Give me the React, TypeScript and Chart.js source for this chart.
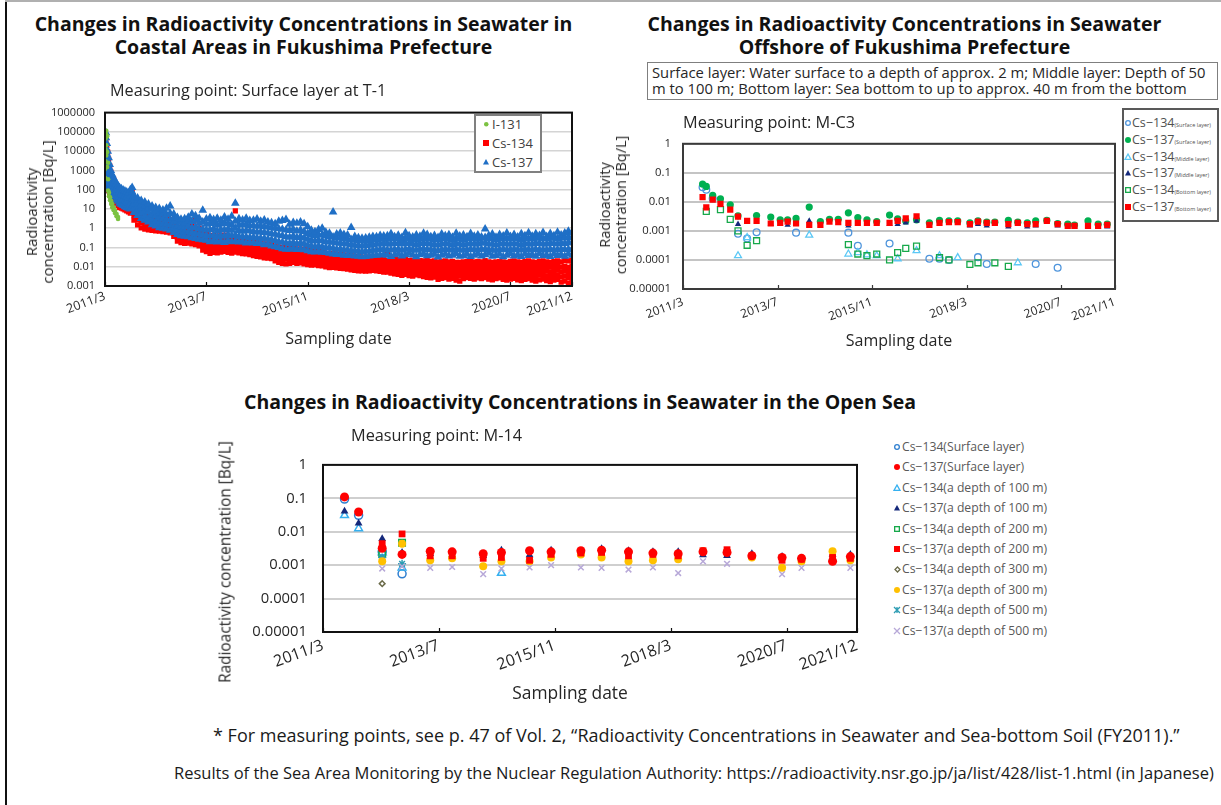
import React, { useEffect, useRef } from 'react';
import { Chart, registerables } from 'chart.js';

Chart.register(...registerables);

const FONT = '"Open Sans", Lato, "DejaVu Sans", sans-serif';
const INK = '#262626';

// ================= Panel 1: coastal, T-1 surface =================
const t1XTickMonths = [0, 28, 56, 84, 112, 129];
const t1XTickLabels = ['2011/3', '2013/7', '2015/11', '2018/3', '2020/7', '2021/12'];
const t1YTicks = [0.001, 0.01, 0.1, 1, 10, 100, 1000, 10000, 100000, 1000000];
const t1YTickLabels = ['0.001', '0.01', '0.1', '1', '10', '100', '1000', '10000', '100000', '1000000'];
const t1Names = ['I-131', 'Cs-134', 'Cs-137'];
// rows: [months since 2011/3, value, value, ...]
const t1I131 = [
  [0.05, 1200, 400], [0.15, 90000, 45000, 12000, 3000], [0.35, 115000, 70000, 20000, 6000],
  [0.6, 60000, 9000, 1500], [0.85, 2500, 350, 90], [1.1, 70, 45], [1.4, 40, 28], [1.7, 26, 18],
  [2.0, 18, 12], [2.4, 12, 8.5], [2.8, 8, 6], [3.2, 5.5, 4.2], [3.6, 3.8, 3],
];
const t1Cs134 = [
  [0, 100, 800, 7000, 28000, 50000], [0.25, 220, 2500, 15000, 40000], [0.5, 160, 1500, 6000, 20000],
  [0.75, 120, 700, 3000, 9000], [1, 90, 380, 1300, 3800], [1.3, 70, 240, 700, 1700], [1.6, 60, 160, 400, 850],
  [2, 45, 110, 240, 480], [2.4, 34, 80, 170, 320], [2.8, 26, 60, 120, 220], [3.2, 19, 45, 90, 150],
  [3.6, 15, 34, 70, 120], [4, 12, 28, 55, 95], [4.5, 11, 24, 45, 80], [5, 10, 20, 40, 70], [5.5, 9, 18, 34, 60],
  [6, 8, 15, 30, 50], [6.5, 7, 14, 27, 45], [7, 6, 12, 30, 70], [7.5, 8, 20, 50, 95],
  [8, 2.6, 4.5, 8, 14, 22], [9, 1.5, 2.8, 4.7, 8.5, 12], [10, 1.05, 1.9, 3.3, 5.4, 7.8], [11, 0.9, 1.5, 2.6, 4.1, 5.6],
  [12, 0.82, 1.35, 2.1, 3.3, 4.6], [13, 0.78, 1.2, 1.95, 2.9, 3.9], [14, 0.72, 1.15, 1.8, 2.6, 3.5], [15, 0.7, 1.1, 1.7, 2.5, 3.1],
  [16, 0.66, 1.05, 1.6, 2.3, 3], [17, 0.62, 0.98, 1.5, 2.2, 2.9], [18, 0.57, 0.9, 1.4, 2.05, 2.7], [19, 0.38, 0.6, 0.95, 1.4, 2.1],
  [20, 0.21, 0.33, 0.52, 0.78, 1.15], [21, 0.18, 0.29, 0.44, 0.66, 0.95], [22, 0.165, 0.26, 0.4, 0.6, 0.88], [23, 0.17, 0.28, 0.45, 0.7, 1.05],
  [24, 0.155, 0.25, 0.42, 0.68, 1.25], [25, 0.14, 0.23, 0.39, 0.62, 2.6], [26, 0.12, 0.2, 0.34, 0.55, 1], [27, 0.072, 0.12, 0.2, 0.32, 0.52],
  [28, 0.06, 0.1, 0.17, 0.28, 0.46], [29, 0.05, 0.085, 0.14, 0.24, 0.4], [30, 0.056, 0.095, 0.16, 0.26, 0.43], [31, 0.053, 0.088, 0.145, 0.23, 0.37],
  [32, 0.058, 0.096, 0.155, 0.25, 0.41], [33, 0.063, 0.105, 0.17, 0.27, 0.44], [34, 0.056, 0.092, 0.15, 0.23, 0.36], [35, 0.051, 0.085, 0.14, 0.21, 0.34],
  [36, 0.058, 0.095, 0.15, 0.24, 8], [37, 0.052, 0.085, 0.135, 0.21, 0.31], [38, 0.048, 0.078, 0.125, 0.19, 0.29], [39, 0.046, 0.075, 0.12, 0.18, 0.28],
  [40, 0.043, 0.068, 0.11, 0.17, 0.26], [41, 0.038, 0.058, 0.09, 0.135, 0.2], [42, 0.034, 0.054, 0.083, 0.125, 0.19], [43, 0.032, 0.05, 0.076, 0.11, 0.16],
  [44, 0.029, 0.046, 0.072, 0.105, 0.155], [45, 0.028, 0.043, 0.066, 0.098, 0.145], [46, 0.026, 0.04, 0.062, 0.092, 0.135], [47, 0.02, 0.033, 0.05, 0.075, 0.115],
  [48, 0.017, 0.029, 0.046, 0.068, 0.105], [49, 0.015, 0.025, 0.041, 0.064, 0.1], [50, 0.014, 0.025, 0.042, 0.07, 0.14], [51, 0.015, 0.024, 0.039, 0.06, 0.092],
  [52, 0.017, 0.027, 0.043, 0.066, 0.1], [53, 0.015, 0.024, 0.036, 0.055, 0.082], [54, 0.016, 0.025, 0.038, 0.056, 0.083], [55, 0.014, 0.022, 0.034, 0.05, 0.077],
  [56, 0.013, 0.021, 0.032, 0.047, 0.072], [57, 0.012, 0.019, 0.029, 0.044, 0.066], [58, 0.0125, 0.019, 0.028, 0.041, 0.061], [59, 0.0115, 0.018, 0.027, 0.04, 0.06],
  [60, 0.0112, 0.017, 0.026, 0.038, 0.058], [61, 0.0098, 0.015, 0.023, 0.034, 0.05], [62, 0.009, 0.014, 0.021, 0.032, 0.048], [63, 0.0092, 0.014, 0.021, 0.033, 0.05],
  [64, 0.0086, 0.013, 0.019, 0.029, 0.045], [65, 0.0083, 0.0125, 0.019, 0.028, 0.042], [66, 0.008, 0.012, 0.018, 0.027, 0.04], [67, 0.0076, 0.0115, 0.017, 0.026, 0.04],
  [68, 0.0068, 0.0105, 0.016, 0.024, 0.038], [69, 0.0064, 0.0098, 0.015, 0.023, 0.035], [70, 0.0061, 0.0094, 0.014, 0.021, 0.033], [71, 0.006, 0.0092, 0.014, 0.021, 0.032],
  [72, 0.0059, 0.009, 0.0135, 0.02, 0.03], [73, 0.006, 0.0093, 0.014, 0.021, 0.033], [74, 0.0065, 0.01, 0.015, 0.023, 0.035], [75, 0.006, 0.0093, 0.0145, 0.022, 0.034],
  [76, 0.0057, 0.0088, 0.0135, 0.02, 0.032], [77, 0.0053, 0.0083, 0.013, 0.021, 0.035], [78, 0.0052, 0.0082, 0.013, 0.021, 0.05], [79, 0.0047, 0.0075, 0.012, 0.019, 0.03],
  [80, 0.0043, 0.007, 0.011, 0.0175, 0.028], [81, 0.004, 0.0064, 0.0102, 0.016, 0.025], [82, 0.0036, 0.0059, 0.0094, 0.015, 0.023], [83, 0.004, 0.0065, 0.0103, 0.016, 0.025],
  [84, 0.0035, 0.0056, 0.0089, 0.014, 0.021], [85, 0.0033, 0.0054, 0.0088, 0.014, 0.022], [86, 0.0038, 0.006, 0.0096, 0.015, 0.024], [87, 0.0035, 0.0056, 0.0089, 0.014, 0.021],
  [88, 0.0031, 0.0051, 0.0082, 0.013, 0.02], [89, 0.0028, 0.0047, 0.0078, 0.013, 0.021], [90, 0.0026, 0.0045, 0.0073, 0.012, 0.019], [91, 0.0029, 0.0048, 0.0078, 0.0125, 0.02],
  [92, 0.0022, 0.0038, 0.0065, 0.011, 0.018], [93, 0.0025, 0.0042, 0.007, 0.0115, 0.019], [94, 0.0027, 0.0045, 0.0074, 0.012, 0.02], [95, 0.0023, 0.0039, 0.0066, 0.011, 0.018],
  [96, 0.0025, 0.0042, 0.007, 0.0115, 0.019], [97, 0.002, 0.0035, 0.0062, 0.0105, 0.017], [98, 0.0018, 0.0033, 0.0058, 0.01, 0.017], [99, 0.0024, 0.004, 0.0068, 0.011, 0.018],
  [100, 0.0027, 0.0044, 0.0072, 0.0118, 0.019], [101, 0.0025, 0.0041, 0.0069, 0.0115, 0.02], [102, 0.0023, 0.0038, 0.0065, 0.0108, 0.018], [103, 0.0026, 0.0043, 0.0071, 0.0116, 0.019],
  [104, 0.0024, 0.004, 0.0067, 0.011, 0.018], [105, 0.0027, 0.0045, 0.0075, 0.0125, 0.021], [106, 0.0023, 0.0038, 0.0064, 0.0107, 0.018], [107, 0.0021, 0.0036, 0.0062, 0.0103, 0.017],
  [108, 0.0024, 0.004, 0.0067, 0.011, 0.018], [109, 0.0026, 0.0043, 0.0071, 0.0116, 0.019], [110, 0.0022, 0.0037, 0.0064, 0.0107, 0.018], [111, 0.002, 0.0035, 0.006, 0.0101, 0.017],
  [112, 0.0023, 0.0039, 0.0065, 0.0109, 0.019], [113, 0.0025, 0.0041, 0.0069, 0.0116, 0.02], [114, 0.0021, 0.0036, 0.0062, 0.0105, 0.018], [115, 0.0019, 0.0034, 0.0058, 0.0099, 0.017],
  [116, 0.0022, 0.0038, 0.0064, 0.0109, 0.019], [117, 0.0024, 0.004, 0.0068, 0.0115, 0.02], [118, 0.002, 0.0035, 0.006, 0.0103, 0.018], [119, 0.0018, 0.0032, 0.0056, 0.0097, 0.017],
  [120, 0.0021, 0.0037, 0.0063, 0.0108, 0.019], [121, 0.0023, 0.0039, 0.0067, 0.0114, 0.02], [122, 0.0019, 0.0034, 0.0059, 0.0102, 0.018], [123, 0.0017, 0.0031, 0.0054, 0.0095, 0.017],
  [124, 0.002, 0.0036, 0.0062, 0.0107, 0.019], [125, 0.0022, 0.0038, 0.0066, 0.0113, 0.02], [126, 0.0016, 0.003, 0.0054, 0.0096, 0.018], [127, 0.0018, 0.0033, 0.0059, 0.0105, 0.021],
  [128, 0.0014, 0.0027, 0.005, 0.0093, 0.02], [129, 0.0019, 0.0035, 0.0063, 0.011, 0.022],
];
const t1Cs137 = [
  [0, 150, 900, 5000, 30000, 75000], [0.25, 400, 3000, 15000, 50000, 90000], [0.5, 250, 1500, 7000, 25000],
  [0.75, 180, 800, 3000, 10000], [1, 130, 450, 1500, 4500], [1.3, 100, 280, 800, 2000], [1.6, 85, 200, 450, 1000],
  [2, 65, 150, 300, 600], [2.4, 50, 110, 220, 400], [2.8, 40, 85, 160, 280], [3.2, 30, 65, 120, 200],
  [3.6, 25, 50, 95, 160], [4, 20, 42, 80, 130], [4.5, 17, 34, 62, 110], [5, 15, 30, 55, 95], [5.5, 13, 26, 48, 85],
  [6, 12, 24, 42, 75], [6.5, 11, 21, 38, 65], [7, 10, 19, 45, 100], [7.5, 13, 32, 75, 130],
  [8, 6.5, 11, 19, 31, 48], [9, 4.6, 8.5, 15, 24, 37], [10, 3.2, 6.2, 11, 17, 27], [11, 2.6, 4.4, 8.4, 14, 23],
  [12, 2.1, 3.4, 6.8, 11, 18], [13, 1.5, 2.9, 5.1, 9.5, 14], [14, 1.3, 2.2, 4.3, 7.4, 12], [15, 1.05, 2, 3.6, 6.1, 10.5],
  [16, 1, 1.7, 3.1, 5.6, 8.8], [17, 0.9, 1.6, 2.8, 5.2, 11], [18, 0.78, 1.45, 2.7, 5.9, 14], [19, 0.6, 1.05, 2.05, 3.4, 5.4],
  [20, 0.47, 0.8, 1.35, 2.3, 3.6], [21, 0.4, 0.74, 1.2, 2.05, 2.9], [22, 0.38, 0.66, 1.15, 1.85, 3.1], [23, 0.36, 0.63, 1.3, 2.4, 3.7],
  [24, 0.32, 0.6, 1.05, 2.2, 5.5], [25, 0.29, 0.52, 1.15, 2.6, 4.4], [26, 0.27, 0.5, 0.92, 1.8, 3.3], [27, 0.25, 0.46, 0.88, 2.1, 8.5],
  [28, 0.24, 0.42, 0.8, 1.6, 3], [29, 0.2, 0.39, 0.82, 1.75, 3.5], [30, 0.23, 0.45, 0.95, 1.9, 2.8], [31, 0.19, 0.37, 0.72, 1.45, 3.3],
  [32, 0.21, 0.42, 0.86, 1.65, 2.6], [33, 0.18, 0.38, 0.8, 1.85, 3.8], [34, 0.22, 0.46, 0.9, 1.7, 2.9], [35, 0.2, 0.4, 0.78, 1.55, 4.2],
  [36, 0.21, 0.44, 0.98, 2.3, 20], [37, 0.19, 0.37, 0.76, 1.5, 3.1], [38, 0.2, 0.36, 0.7, 1.45, 2.7], [39, 0.17, 0.35, 0.75, 1.6, 3.3],
  [40, 0.18, 0.33, 0.71, 1.4, 2.5], [41, 0.17, 0.34, 0.66, 1.35, 2.6], [42, 0.16, 0.31, 0.63, 1.25, 3], [43, 0.17, 0.3, 0.64, 1.35, 2.3],
  [44, 0.14, 0.29, 0.6, 1.2, 2.7], [45, 0.145, 0.27, 0.57, 1.15, 2.1], [46, 0.12, 0.25, 0.52, 1.05, 1.9], [47, 0.11, 0.23, 0.49, 0.98, 1.7],
  [48, 0.1, 0.2, 0.43, 0.95, 2.3], [49, 0.085, 0.185, 0.4, 0.88, 2.5], [50, 0.08, 0.17, 0.36, 0.8, 2.8], [51, 0.082, 0.16, 0.34, 0.75, 1.6],
  [52, 0.09, 0.18, 0.39, 0.87, 2], [53, 0.078, 0.155, 0.33, 0.72, 1.8], [54, 0.086, 0.175, 0.37, 0.8, 2.1], [55, 0.075, 0.15, 0.31, 0.68, 1.7],
  [56, 0.068, 0.135, 0.27, 0.53, 1.2], [57, 0.06, 0.12, 0.23, 0.45, 0.78], [58, 0.058, 0.11, 0.215, 0.4, 0.66], [59, 0.062, 0.12, 0.24, 0.46, 0.85],
  [60, 0.056, 0.105, 0.22, 0.44, 1], [61, 0.055, 0.1, 0.2, 0.39, 0.62], [62, 0.05, 0.097, 0.19, 0.36, 0.55], [63, 0.046, 0.09, 0.185, 0.35, 7],
  [64, 0.043, 0.082, 0.17, 0.31, 0.5], [65, 0.045, 0.083, 0.165, 0.32, 0.56], [66, 0.04, 0.076, 0.155, 0.29, 0.47], [67, 0.038, 0.073, 0.15, 0.27, 0.44],
  [68, 0.039, 0.07, 0.14, 0.26, 1.1], [69, 0.036, 0.068, 0.13, 0.24, 0.37], [70, 0.035, 0.064, 0.125, 0.23, 0.32], [71, 0.033, 0.062, 0.12, 0.22, 0.3],
  [72, 0.034, 0.063, 0.125, 0.21, 0.31], [73, 0.036, 0.066, 0.13, 0.23, 0.34], [74, 0.038, 0.072, 0.14, 0.25, 0.37], [75, 0.04, 0.074, 0.15, 0.26, 0.36],
  [76, 0.041, 0.078, 0.15, 0.28, 0.42], [77, 0.043, 0.08, 0.16, 0.27, 0.39], [78, 0.039, 0.074, 0.15, 0.27, 0.41], [79, 0.034, 0.073, 0.15, 0.29, 0.52],
  [80, 0.042, 0.078, 0.16, 0.28, 0.36], [81, 0.047, 0.081, 0.16, 0.29, 0.43], [82, 0.036, 0.072, 0.15, 0.26, 0.33], [83, 0.042, 0.082, 0.17, 0.31, 0.58],
  [84, 0.05, 0.083, 0.16, 0.28, 0.41], [85, 0.041, 0.077, 0.15, 0.26, 0.35], [86, 0.033, 0.072, 0.14, 0.25, 0.44], [87, 0.042, 0.082, 0.16, 0.28, 0.38],
  [88, 0.048, 0.085, 0.17, 0.3, 0.55], [89, 0.037, 0.079, 0.16, 0.28, 0.47], [90, 0.039, 0.075, 0.15, 0.28, 0.36], [91, 0.045, 0.072, 0.14, 0.26, 0.42],
  [92, 0.032, 0.07, 0.14, 0.25, 0.33], [93, 0.039, 0.075, 0.15, 0.28, 0.5], [94, 0.046, 0.08, 0.16, 0.29, 0.4], [95, 0.036, 0.077, 0.15, 0.27, 0.46],
  [96, 0.04, 0.073, 0.14, 0.26, 0.34], [97, 0.048, 0.08, 0.16, 0.28, 0.55], [98, 0.035, 0.077, 0.15, 0.28, 0.39], [99, 0.037, 0.071, 0.14, 0.26, 0.45],
  [100, 0.044, 0.075, 0.15, 0.28, 0.36], [101, 0.034, 0.081, 0.16, 0.3, 0.53], [102, 0.04, 0.077, 0.15, 0.28, 0.38], [103, 0.047, 0.075, 0.15, 0.27, 0.44],
  [104, 0.036, 0.082, 0.17, 0.3, 0.35], [105, 0.042, 0.082, 0.17, 0.33, 0.9], [106, 0.05, 0.077, 0.15, 0.28, 0.42], [107, 0.035, 0.073, 0.15, 0.28, 0.5],
  [108, 0.038, 0.071, 0.14, 0.26, 0.34], [109, 0.045, 0.075, 0.15, 0.28, 0.47], [110, 0.033, 0.08, 0.16, 0.29, 0.39], [111, 0.04, 0.077, 0.15, 0.28, 0.56],
  [112, 0.048, 0.075, 0.15, 0.28, 0.37], [113, 0.036, 0.08, 0.16, 0.3, 0.47], [114, 0.042, 0.077, 0.15, 0.28, 0.35], [115, 0.034, 0.073, 0.14, 0.26, 0.52],
  [116, 0.046, 0.08, 0.16, 0.31, 0.4], [117, 0.038, 0.077, 0.15, 0.28, 0.58], [118, 0.043, 0.075, 0.15, 0.28, 0.38], [119, 0.035, 0.082, 0.17, 0.32, 0.51],
  [120, 0.049, 0.077, 0.16, 0.3, 0.42], [121, 0.037, 0.075, 0.15, 0.28, 0.6], [122, 0.041, 0.073, 0.15, 0.29, 0.37], [123, 0.034, 0.082, 0.17, 0.32, 0.53],
  [124, 0.046, 0.077, 0.16, 0.3, 0.41], [125, 0.038, 0.075, 0.15, 0.28, 0.62], [126, 0.043, 0.082, 0.17, 0.33, 0.45], [127, 0.035, 0.079, 0.16, 0.31, 0.56],
  [128, 0.047, 0.082, 0.18, 0.36, 0.7], [129, 0.039, 0.079, 0.17, 0.32, 0.6],
];

// ================= Panel 2: offshore, M-C3 =================
const mc3XTickMonths = [0, 28, 56, 84, 112, 128];
const mc3XTickLabels = ['2011/3', '2013/7', '2015/11', '2018/3', '2020/7', '2021/11'];
const mc3YTicks = [0.00001, 0.0001, 0.001, 0.01, 0.1, 1];
const mc3YTickLabels = ['0.00001', '0.0001', '0.001', '0.01', '0.1', '1'];
const mc3Names = ['Cs−134', 'Cs−137', 'Cs−134', 'Cs−137', 'Cs−134', 'Cs−137'];
const mc3Layers = ['(Surface layer)', '(Surface layer)', '(Middle layer)', '(Middle layer)', '(Bottom layer)', '(Bottom layer)'];
// pairs: [months since 2011/3, Bq/L]
const mc3Cs134Surface = [
  [5.8, 0.032], [6.9, 0.026], [8.8, 0.013], [16.3, 0.0008], [19, 0.00055], [21.8, 0.0009], [33.5, 0.00087],
  [49, 0.00087], [51.8, 0.00031], [61.2, 0.00037], [73, 0.00011], [76, 0.00011], [78.8, 0.0001], [87.4, 0.000125],
  [90, 0.000073], [104.5, 0.000073], [111, 0.000054],
];
const mc3Cs137Surface = [
  [5.8, 0.041], [6.9, 0.034], [8.8, 0.0168], [11.1, 0.0128], [14, 0.0079], [16.3, 0.0033], [21.8, 0.0034],
  [26, 0.003], [28.8, 0.0024], [31, 0.0024], [33.5, 0.0027], [37.4, 0.0066], [40.7, 0.0021], [43.4, 0.0025],
  [46, 0.0025], [49, 0.0042], [51.8, 0.0029], [54.5, 0.0024], [57.4, 0.0021], [61.2, 0.0035], [63.6, 0.0026],
  [66, 0.0022], [69.2, 0.0024], [73, 0.0019], [76, 0.0023], [78.8, 0.0022], [81.4, 0.0022], [85, 0.0019],
  [87.4, 0.0022], [90, 0.002], [92.4, 0.002], [96.4, 0.0023], [99.2, 0.002], [102, 0.0019], [104.5, 0.0022],
  [107.8, 0.0023], [111, 0.0018], [114, 0.0017], [116, 0.0016], [120, 0.0022], [123, 0.0017], [125.7, 0.0017],
];
const mc3Cs134Middle = [
  [16.3, 0.00014], [19, 0.00059], [37.4, 0.00072], [49, 0.00016], [51.8, 0.00018], [54.5, 0.00015],
  [57.4, 0.00014], [63.6, 0.00011], [69.2, 0.00021], [76, 0.00014], [81.4, 0.00012], [99.2, 0.00008],
];
const mc3Cs137Middle = [
  [16.3, 0.0017], [26, 0.0017], [31, 0.0016], [37.4, 0.0022], [49, 0.0015], [61.2, 0.0017], [63.6, 0.0017],
  [66, 0.0019], [69.2, 0.0022], [85, 0.0015], [87.4, 0.0017], [90, 0.0015], [96.4, 0.0014], [102, 0.0014],
  [104.5, 0.0015], [111, 0.0015], [116, 0.0014], [125.7, 0.0014],
];
const mc3Cs134Bottom = [
  [6.9, 0.0047], [11.1, 0.0054], [14, 0.0025], [16.3, 0.001], [19, 0.00032], [21.8, 0.00046], [49, 0.00034],
  [51.8, 0.00016], [54.5, 0.00014], [57.4, 0.00016], [61.2, 0.0001], [63.6, 0.00018], [66, 0.00025], [69.2, 0.0003],
  [76, 0.00012], [78.8, 0.0001], [85, 0.00007], [87.4, 0.00008], [92.4, 0.00008], [96.4, 0.00006],
];
const mc3Cs137Bottom = [
  [5.8, 0.0145], [6.9, 0.0065], [8.8, 0.012], [11.1, 0.0085], [14, 0.0054], [16.3, 0.0031], [19, 0.0022],
  [21.8, 0.0022], [26, 0.0018], [28.8, 0.0019], [31, 0.0021], [33.5, 0.0018], [37.4, 0.0016], [40.7, 0.0016],
  [43.4, 0.0021], [46, 0.002], [49, 0.0019], [51.8, 0.0019], [54.5, 0.0019], [57.4, 0.0019], [61.2, 0.0019],
  [63.6, 0.0022], [66, 0.0027], [69.2, 0.0032], [73, 0.0016], [76, 0.0019], [78.8, 0.002], [81.4, 0.002],
  [85, 0.0017], [87.4, 0.0021], [90, 0.0019], [92.4, 0.0019], [96.4, 0.0017], [99.2, 0.0019], [102, 0.0017],
  [104.5, 0.0017], [107.8, 0.0022], [111, 0.0017], [114, 0.0015], [116, 0.0015], [120, 0.0015], [123, 0.0015],
  [125.7, 0.0016],
];

// ================= Panel 3: open sea, M-14 =================
const m14XTickMonths = [0, 28, 56, 84, 112, 129];
const m14XTickLabels = ['2011/3', '2013/7', '2015/11', '2018/3', '2020/7', '2021/12'];
const m14YTicks = [0.00001, 0.0001, 0.001, 0.01, 0.1, 1];
const m14YTickLabels = ['0.00001', '0.0001', '0.001', '0.01', '0.1', '1'];
const m14Names = [
  'Cs−134(Surface layer)', 'Cs−137(Surface layer)', 'Cs−134(a depth of 100 m)', 'Cs−137(a depth of 100 m)',
  'Cs−134(a depth of 200 m)', 'Cs−137(a depth of 200 m)', 'Cs−134(a depth of 300 m)', 'Cs−137(a depth of 300 m)',
  'Cs−134(a depth of 500 m)', 'Cs−137(a depth of 500 m)',
];
const m14Cs134Surface = [[5.2, 0.095], [8.6, 0.031], [14.3, 0.0025], [19.1, 0.00055]];
const m14Cs137Surface = [
  [5.2, 0.11], [8.6, 0.039], [14.3, 0.0032], [19.1, 0.0021], [25.9, 0.0026], [31.2, 0.0025], [38.7, 0.0022],
  [43.1, 0.0024], [49.9, 0.0027], [55.1, 0.0025], [62.3, 0.0027], [67.3, 0.0028], [73.8, 0.0025], [79.7, 0.0023],
  [85.8, 0.0022], [91.8, 0.0025], [97.6, 0.0024], [103.6, 0.0019], [110.9, 0.0017], [115.6, 0.0016], [123.1, 0.0013],
  [127.4, 0.0018],
];
const m14Cs134D100 = [[5.2, 0.031], [8.6, 0.0125], [14.3, 0.0024], [19.1, 0.00083], [43.1, 0.00058]];
const m14Cs137D100 = [
  [5.2, 0.041], [8.6, 0.018], [14.3, 0.0062], [19.1, 0.0024], [25.9, 0.0022], [31.2, 0.002], [38.7, 0.0019],
  [43.1, 0.0028], [49.9, 0.002], [55.1, 0.0028], [62.3, 0.0025], [67.3, 0.0031], [73.8, 0.0027], [79.7, 0.0025],
  [85.8, 0.0025], [91.8, 0.002], [97.6, 0.0019], [103.6, 0.0022], [110.9, 0.0018], [115.6, 0.0016], [123.1, 0.0021],
  [127.4, 0.0021],
];
const m14Cs134D200 = [[14.3, 0.0022], [19.1, 0.0047]];
const m14Cs137D200 = [
  [14.3, 0.0044], [19.1, 0.0086], [25.9, 0.0019], [31.2, 0.0019], [38.7, 0.0016], [43.1, 0.0017], [49.9, 0.0014],
  [55.1, 0.0021], [62.3, 0.0023], [67.3, 0.0024], [73.8, 0.0019], [79.7, 0.0021], [85.8, 0.0019], [91.8, 0.0027],
  [97.6, 0.0029], [103.6, 0.0019], [110.9, 0.0014], [115.6, 0.0015], [123.1, 0.0017], [127.4, 0.0016],
];
const m14Cs134D300 = [[14.3, 0.00028], [19.1, 0.0022]];
const m14Cs137D300 = [
  [14.3, 0.0013], [19.1, 0.0044], [25.9, 0.0014], [31.2, 0.0016], [38.7, 0.00093], [43.1, 0.0013], [49.9, 0.0013],
  [55.1, 0.0017], [62.3, 0.0021], [67.3, 0.0017], [73.8, 0.0013], [79.7, 0.0014], [85.8, 0.0015], [91.8, 0.0026],
  [97.6, 0.0025], [103.6, 0.0017], [110.9, 0.00083], [115.6, 0.0013], [123.1, 0.0026], [127.4, 0.0014],
];
const m14Cs134D500 = [[14.3, 0.0017], [19.1, 0.0011], [123.1, 0.0014]];
const m14Cs137D500 = [
  [14.3, 0.00079], [19.1, 0.00092], [25.9, 0.00083], [31.2, 0.00088], [38.7, 0.00054], [43.1, 0.00079],
  [49.9, 0.00085], [55.1, 0.001], [62.3, 0.00085], [67.3, 0.00083], [73.8, 0.00074], [79.7, 0.00085],
  [85.8, 0.00058], [91.8, 0.0013], [97.6, 0.0011], [110.9, 0.00054], [115.6, 0.00083], [127.4, 0.00083],
];

// ================= helpers =================
const rowsToPoints = (rows: number[][]) => rows.flatMap((r) => r.slice(1).map((v) => ({ x: r[0], y: v })));
const pairsToPoints = (pairs: number[][]) => pairs.map(([x, y]) => ({ x, y }));

function ds(label: string, data: any[], style: string, color: string, radius: number, filled: boolean, order: number, bw = 1.3) {
  return {
    label, data, order, showLine: false,
    pointStyle: style, pointRadius: radius,
    pointBackgroundColor: filled ? color : 'rgba(0,0,0,0)',
    pointBorderColor: color,
    pointBorderWidth: filled ? 0 : bw,
  };
}

function makeChart(canvas: HTMLCanvasElement, s: any) {
  const framePlugin = {
    id: 'frameAndTicks',
    afterDatasetsDraw(chart: any) {
      const { ctx, chartArea: a } = chart;
      const xs = chart.scales.x;
      ctx.save();
      ctx.strokeStyle = s.frameColor;
      ctx.lineWidth = s.frameWidth;
      ctx.strokeRect(a.left, a.top, a.right - a.left, a.bottom - a.top);
      ctx.lineWidth = 1.2;
      for (const v of s.xTicks) {
        const px = Math.round(xs.getPixelForValue(v)) + 0.5;
        ctx.beginPath();
        ctx.moveTo(px, a.bottom);
        ctx.lineTo(px, a.bottom - 4);
        ctx.stroke();
      }
      ctx.restore();
    },
  };
  return new Chart(canvas, {
    type: 'scatter',
    data: { datasets: s.datasets },
    options: {
      animation: false,
      responsive: false,
      devicePixelRatio: 1,
      events: [],
      layout: { padding: { left: 0, top: s.padTop, right: s.padRight, bottom: 0 } },
      plugins: { legend: { display: false }, tooltip: { enabled: false }, title: { display: false } },
      scales: {
        x: {
          type: 'linear', min: 0, max: s.xMax,
          afterBuildTicks: (sc: any) => { sc.ticks = s.xTicks.map((v: number) => ({ value: v })); },
          afterFit: (sc: any) => { sc.height = s.xHeight; },
          grid: { display: false, drawTicks: false },
          border: { display: false },
          ticks: {
            autoSkip: false, minRotation: 20, maxRotation: 20, padding: s.xPad, color: INK,
            font: { family: FONT, size: s.xTickFont },
            callback: (_v: any, i: number) => s.xLabels[i],
          },
          title: {
            display: !!s.xTitle, text: s.xTitle || '', color: INK,
            font: { family: FONT, size: s.xTitleFont }, padding: { top: 0, bottom: s.xTitlePad },
          },
        },
        y: {
          type: 'logarithmic', min: s.yMin, max: s.yMax,
          afterBuildTicks: (sc: any) => { sc.ticks = s.yTicks.map((v: number) => ({ value: v })); },
          afterFit: (sc: any) => { sc.width = s.yWidth; },
          grid: { color: s.gridColor, lineWidth: s.gridWidth, drawTicks: false },
          border: { display: false },
          ticks: {
            autoSkip: false, padding: s.yPad, color: INK,
            font: { family: FONT, size: s.yTickFont },
            callback: (_v: any, i: number) => s.yLabels[i],
          },
        },
      },
    },
    plugins: [framePlugin],
  } as any);
}

// ================= legend marker =================
function Marker({ shape, color, size, filled, x, y, lw = 1.3 }: any) {
  const box = size + 4;
  const c = box / 2;
  const h = size / 2;
  const fill = filled ? color : 'none';
  const stroke = color;
  let el: any = null;
  if (shape === 'circle') el = <circle cx={c} cy={c} r={filled ? h : h - lw / 2} fill={fill} stroke={filled ? 'none' : stroke} strokeWidth={lw} />;
  if (shape === 'triangle') el = <polygon points={`${c},${c - h} ${c + h},${c + h * 0.8} ${c - h},${c + h * 0.8}`} fill={fill} stroke={filled ? 'none' : stroke} strokeWidth={lw} />;
  if (shape === 'square') el = <rect x={c - h + (filled ? 0 : lw / 2)} y={c - h + (filled ? 0 : lw / 2)} width={size - (filled ? 0 : lw)} height={size - (filled ? 0 : lw)} fill={fill} stroke={filled ? 'none' : stroke} strokeWidth={lw} />;
  if (shape === 'diamond') el = <polygon points={`${c},${c - h} ${c + h},${c} ${c},${c + h} ${c - h},${c}`} fill="none" stroke={stroke} strokeWidth={lw} />;
  if (shape === 'x') el = <path d={`M${c - h},${c - h}L${c + h},${c + h}M${c + h},${c - h}L${c - h},${c + h}`} stroke={stroke} strokeWidth={lw} />;
  if (shape === 'star') el = <path d={`M${c - h},${c - h}L${c + h},${c + h}M${c + h},${c - h}L${c - h},${c + h}M${c},${c - h}L${c},${c + h}`} stroke={stroke} strokeWidth={lw} />;
  return (
    <svg width={box} height={box} style={{ position: 'absolute', left: x - c, top: y - c }}>
      {el}
    </svg>
  );
}

const txt = (extra: any) => ({ position: 'absolute', whiteSpace: 'nowrap', ...extra });

// panel colours
const C1 = { i131: '#7cc242', cs134: '#ff0000', cs137: '#1f6fc6' };
const C2 = ['#4f95dc', '#00b050', '#5cc8f5', '#14287a', '#16a84a', '#ff0000'];
const C2Shape = ['circle', 'circle', 'triangle', 'triangle', 'square', 'square'];
const C2Filled = [false, true, false, true, false, true];
const C3 = ['#2f7fd0', '#ff0000', '#35b0f0', '#14287a', '#16a84a', '#ff0000', '#6b6b4a', '#ffc000', '#2d9db3', '#b7a8d8'];
const C3Shape = ['circle', 'circle', 'triangle', 'triangle', 'square', 'square', 'diamond', 'circle', 'star', 'x'];
const C3Filled = [false, true, false, true, false, true, false, true, false, false];

export default function App() {
  const r1 = useRef<HTMLCanvasElement>(null);
  const r2 = useRef<HTMLCanvasElement>(null);
  const r3 = useRef<HTMLCanvasElement>(null);

  useEffect(() => {
    document.body.style.margin = '0';
    document.body.style.background = '#ffffff';

    const ch1 = makeChart(r1.current!, {
      xMax: 129, xTicks: t1XTickMonths, xLabels: t1XTickLabels,
      yMin: 0.001, yMax: 1000000, yTicks: t1YTicks, yLabels: t1YTickLabels,
      yWidth: 105, xHeight: 72, padTop: 8, padRight: 38,
      yTickFont: 11, xTickFont: 12.5, yPad: 10, xPad: 3,
      xTitle: 'Sampling date', xTitleFont: 16, xTitlePad: 8.5,
      gridColor: '#d4d4d4', gridWidth: 1.5, frameColor: '#111', frameWidth: 2,
      datasets: [
        ds(t1Names[1], rowsToPoints(t1Cs134), 'rect', C1.cs134, 3.7, true, 3),
        ds(t1Names[2], rowsToPoints(t1Cs137), 'triangle', C1.cs137, 5, true, 2),
        ds(t1Names[0], rowsToPoints(t1I131), 'circle', C1.i131, 2.3, true, 1),
      ],
    });

    const ch2 = makeChart(r2.current!, {
      xMax: 128, xTicks: mc3XTickMonths, xLabels: mc3XTickLabels,
      yMin: 0.00001, yMax: 1, yTicks: mc3YTicks, yLabels: mc3YTickLabels,
      yWidth: 73, xHeight: 71, padTop: 8, padRight: 106,
      yTickFont: 11.3, xTickFont: 12, yPad: 12, xPad: 6,
      xTitle: 'Sampling date', xTitleFont: 16, xTitlePad: 8.5,
      gridColor: '#c4c4c4', gridWidth: 2, frameColor: '#3a3a3a', frameWidth: 2,
      datasets: [
        ds(mc3Names[5] + mc3Layers[5], pairsToPoints(mc3Cs137Bottom), 'rect', C2[5], 4.4, true, 1),
        ds(mc3Names[4] + mc3Layers[4], pairsToPoints(mc3Cs134Bottom), 'rect', C2[4], 4.2, false, 2),
        ds(mc3Names[3] + mc3Layers[3], pairsToPoints(mc3Cs137Middle), 'triangle', C2[3], 3.6, true, 3),
        ds(mc3Names[2] + mc3Layers[2], pairsToPoints(mc3Cs134Middle), 'triangle', C2[2], 4, false, 4),
        ds(mc3Names[1] + mc3Layers[1], pairsToPoints(mc3Cs137Surface), 'circle', C2[1], 3.6, true, 5),
        ds(mc3Names[0] + mc3Layers[0], pairsToPoints(mc3Cs134Surface), 'circle', C2[0], 3.4, false, 6),
      ],
    });

    const m14Data = [m14Cs134Surface, m14Cs137Surface, m14Cs134D100, m14Cs137D100, m14Cs134D200, m14Cs137D200, m14Cs134D300, m14Cs137D300, m14Cs134D500, m14Cs137D500];
    const m14Style = ['circle', 'circle', 'triangle', 'triangle', 'rect', 'rect', 'rectRot', 'circle', 'star', 'crossRot'];
    const m14Radius = [4, 4.5, 4.5, 4.5, 4.6, 4.8, 2.8, 4, 4, 4];
    const m14Order = [9, 0, 8, 3, 7, 1, 6, 2, 5, 4];
    const ch3 = makeChart(r3.current!, {
      xMax: 129, xTicks: m14XTickMonths, xLabels: m14XTickLabels,
      yMin: 0.00001, yMax: 1, yTicks: m14YTicks, yLabels: m14YTickLabels,
      yWidth: 113, xHeight: 78, padTop: 8, padRight: 33,
      yTickFont: 14.8, xTickFont: 16, yPad: 16, xPad: 4,
      xTitle: '', xTitleFont: 16, xTitlePad: 8,
      gridColor: '#cfcfcf', gridWidth: 2, frameColor: '#111', frameWidth: 2,
      datasets: m14Data.map((d, i) => ds(m14Names[i], pairsToPoints(d), m14Style[i], C3[i], m14Radius[i], C3Filled[i], m14Order[i], 1.5)),
    });

    return () => { ch1.destroy(); ch2.destroy(); ch3.destroy(); };
  }, []);

  const title = { fontFamily: FONT, fontWeight: 700, fontSize: 19.5, lineHeight: '23px', color: '#111', textAlign: 'center' as const };

  return (
    <div style={{ position: 'absolute', left: 0, top: 0, width: 1221, height: 805, overflow: 'hidden', background: '#fff', fontFamily: FONT, color: INK }}>
      {/* frame remnants */}
      <div style={{ position: 'absolute', left: 5, top: 0, width: 2, height: 805, background: '#111' }} />
      <div style={{ position: 'absolute', left: 5, top: 0, width: 1216, height: 2, background: '#b0b0b0' }} />

      {/* canvases */}
      <canvas ref={r1} width={610} height={262} style={{ position: 'absolute', left: 0, top: 96, width: 610, height: 262 }} />
      <canvas ref={r2} width={611} height={235} style={{ position: 'absolute', left: 610, top: 125, width: 611, height: 235 }} />
      <canvas ref={r3} width={680} height={270} style={{ position: 'absolute', left: 210, top: 440, width: 680, height: 270 }} />

      {/* panel 1 texts */}
      <div style={txt({ ...title, left: 303.5, top: 12, transform: 'translateX(-50%)' })}>
        Changes in Radioactivity Concentrations in Seawater in<br />Coastal Areas in Fukushima Prefecture
      </div>
      <div style={txt({ left: 110, top: 80, fontSize: 16.2, lineHeight: '20px' })}>Measuring point: Surface layer at T-1</div>
      <div style={txt({ left: 39, top: 212, fontSize: 15, lineHeight: '16px', textAlign: 'center', transform: 'translate(-50%, -50%) rotate(-90deg)' })}>
        Radioactivity<br />concentration [Bq/L]
      </div>
      <div style={{ position: 'absolute', left: 474, top: 114, width: 68, height: 59, boxSizing: 'border-box', border: '2px solid #808080', background: '#fff' }} />
      {[C1.i131, C1.cs134, C1.cs137].map((col, i) => (
        <React.Fragment key={i}>
          <Marker shape={['circle', 'square', 'triangle'][i]} color={col} size={i === 0 ? 4.5 : 6} filled x={486} y={124 + i * 19} />
          <div style={txt({ left: 492, top: 115.5 + i * 19, fontSize: 13, lineHeight: '17px', color: '#404040' })}>{t1Names[i]}</div>
        </React.Fragment>
      ))}

      {/* panel 2 texts */}
      <div style={txt({ ...title, left: 904.5, top: 12, transform: 'translateX(-50%)' })}>
        Changes in Radioactivity Concentrations in Seawater<br />Offshore of Fukushima Prefecture
      </div>
      <div style={{ position: 'absolute', left: 647, top: 62, width: 571, height: 38, boxSizing: 'border-box', border: '1.5px solid #7f7f7f', padding: '1px 0 0 4px', fontSize: 14.8, lineHeight: '16px', whiteSpace: 'nowrap', overflow: 'hidden' }}>
        Surface layer: Water surface to a depth of approx. 2 m; Middle layer: Depth of 50<br />m to 100 m; Bottom layer: Sea bottom to up to approx. 40 m from the bottom
      </div>
      <div style={txt({ left: 683, top: 112, fontSize: 16.3, lineHeight: '20px' })}>Measuring point: M-C3</div>
      <div style={txt({ left: 613, top: 205, fontSize: 14.5, lineHeight: '16px', textAlign: 'center', transform: 'translate(-50%, -50%) rotate(-90deg)' })}>
        Radioactivity<br />concentration [Bq/L]
      </div>
      <div style={{ position: 'absolute', left: 1122, top: 108, width: 97, height: 114, boxSizing: 'border-box', border: '2px solid #595959', background: '#fff' }} />
      {mc3Names.map((n, i) => (
        <React.Fragment key={i}>
          <Marker shape={C2Shape[i]} color={C2[i]} size={6} filled={C2Filled[i]} x={1128} y={123 + i * 16.8} />
          <div style={txt({ left: 1132, top: 115 + i * 16.8, fontSize: 12.5, lineHeight: '16px', color: '#505050' })}>
            {n}<span style={{ fontSize: 5.5, letterSpacing: 0 }}>{mc3Layers[i]}</span>
          </div>
        </React.Fragment>
      ))}

      {/* panel 3 texts */}
      <div style={txt({ ...title, left: 580, top: 390, transform: 'translateX(-50%)' })}>
        Changes in Radioactivity Concentrations in Seawater in the Open Sea
      </div>
      <div style={txt({ left: 351, top: 425, fontSize: 16.3, lineHeight: '20px' })}>Measuring point: M-14</div>
      <div style={txt({ left: 225, top: 562, fontSize: 15.4, lineHeight: '17px', transform: 'translate(-50%, -50%) rotate(-90deg)' })}>
        Radioactivity concentration [Bq/L]
      </div>
      <div style={txt({ left: 570, top: 681, fontSize: 17.4, lineHeight: '22px', transform: 'translateX(-50%)' })}>Sampling date</div>
      {m14Names.map((n, i) => (
        <React.Fragment key={i}>
          <Marker shape={C3Shape[i]} color={C3[i]} size={i === 6 ? 5 : 6} filled={C3Filled[i]} x={897} y={447 + i * 20.4} />
          <div style={txt({ left: 902, top: 439 + i * 20.4, fontSize: 12.2, lineHeight: '16px', color: '#595959' })}>{n}</div>
        </React.Fragment>
      ))}

      {/* footnotes */}
      <div style={txt({ left: 213, top: 723, fontSize: 18, lineHeight: '24px', color: '#1a1a1a' })}>
        * For measuring points, see p. 47 of Vol. 2, “Radioactivity Concentrations in Seawater and Sea-bottom Soil (FY2011).”
      </div>
      <div style={txt({ left: 174, top: 762, fontSize: 16.5, lineHeight: '22px', color: '#1a1a1a' })}>
        Results of the Sea Area Monitoring by the Nuclear Regulation Authority: https://radioactivity.nsr.go.jp/ja/list/428/list-1.html (in Japanese)
      </div>
    </div>
  );
}
